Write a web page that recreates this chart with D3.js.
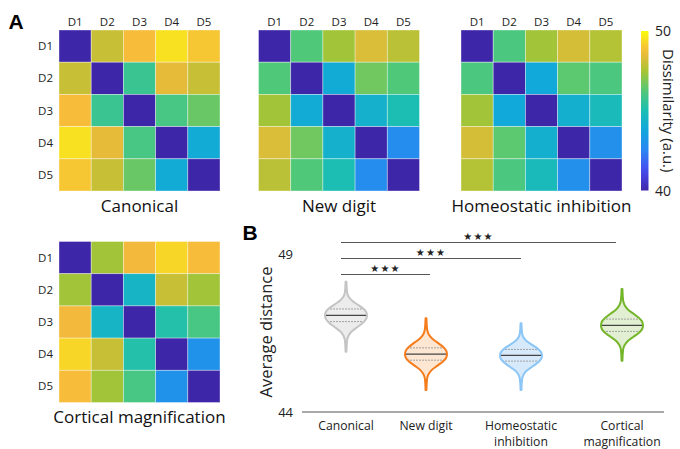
<!DOCTYPE html>
<html>
<head>
<meta charset="utf-8">
<script src="https://cdn.jsdelivr.net/npm/d3@7"></script>
<style>
  html, body { margin: 0; padding: 0; background: #fff; }
  svg { display: block; font-family: "Open Sans", "Noto Sans", sans-serif; }
</style>
</head>
<body>
<svg id="chart" width="680" height="449"></svg>
<script>
// ---------- DATA ----------
const digits = ["D1", "D2", "D3", "D4", "D5"];

const canonical = [
  [40.0, 48.0, 48.8, 49.5, 49.0],
  [48.0, 40.0, 45.7, 48.5, 48.0],
  [48.8, 45.7, 40.0, 46.0, 46.6],
  [49.5, 48.5, 46.0, 40.0, 44.0],
  [49.0, 48.0, 46.6, 44.0, 40.0]
];
const newDigit = [
  [40.0, 46.2, 47.4, 48.3, 47.8],
  [46.2, 40.0, 44.0, 46.7, 46.2],
  [47.4, 44.0, 40.0, 44.3, 45.0],
  [48.3, 46.7, 44.3, 40.0, 42.8],
  [47.8, 46.2, 45.0, 42.8, 40.0]
];
const homeostatic = [
  [40.0, 46.1, 47.4, 48.2, 47.7],
  [46.1, 40.0, 43.9, 46.4, 46.1],
  [47.4, 43.9, 40.0, 44.2, 44.8],
  [48.2, 46.4, 44.2, 40.0, 42.9],
  [47.7, 46.1, 44.8, 42.9, 40.0]
];
const cortical = [
  [40.0, 47.4, 48.7, 49.3, 48.8],
  [47.4, 40.0, 44.5, 48.0, 47.4],
  [48.7, 44.5, 40.0, 45.2, 46.0],
  [49.3, 48.0, 45.2, 40.0, 43.0],
  [48.8, 47.4, 46.0, 43.0, 40.0]
];
const heatmapTitles = ["Canonical", "New digit", "Homeostatic inhibition", "Cortical magnification"];
const colorDomain = [40, 50];
const colorTicks = [40, 50];

const violinCats = ["Canonical", "New digit", "Homeostatic inhibition", "Cortical magnification"];
const violinLabelLines = [["Canonical"], ["New digit"], ["Homeostatic", "inhibition"], ["Cortical", "magnification"]];
const violinMax    = [48.12, 46.97, 46.81, 47.89];
const violinQ3     = [47.26, 46.03, 45.98, 46.94];
const violinMedian = [47.06, 45.83, 45.79, 46.74];
const violinQ1     = [46.86, 45.64, 45.61, 46.55];
const violinMin    = [45.91, 44.70, 44.70, 45.62];
// shape profile (relative position from top tip to bottom tip, relative half-width)
const profileT = [0.00, 0.15, 0.22, 0.28, 0.34, 0.40, 0.45, 0.50, 0.55, 0.60, 0.66, 0.72, 0.78, 0.85, 1.00];
const profileW = [0.02, 0.05, 0.12, 0.28, 0.55, 0.82, 0.96, 1.00, 0.96, 0.82, 0.55, 0.28, 0.12, 0.05, 0.02];
const yTicks = [44, 49];
const sigPairs = [[0, 1], [0, 2], [0, 3]];
const sigLabel = "★★★";

// ---------- STYLE ----------
const violinStroke = ["#c4c4c4", "#f47c1c", "#8cc6f6", "#74b52a"];
const violinFill   = ["#ececec", "#fde7d2", "#d7eafb", "#e2efd2"];

const parulaStops = ["#3e26a8", "#464cf0", "#2c85f2", "#10a6de", "#1cbeb4", "#52c878", "#a8c434", "#f6b93c", "#f9fb0e"];
const color = d3.scaleLinear()
  .domain(d3.range(parulaStops.length).map(i => colorDomain[0] + i * (colorDomain[1] - colorDomain[0]) / (parulaStops.length - 1)))
  .range(parulaStops)
  .interpolate(d3.interpolateRgb)
  .clamp(true);

const svg = d3.select("#chart");

// ---------- PANEL A: heatmaps ----------
const size = 161;
const panels = [
  { m: canonical,   title: heatmapTitles[0], x: 59,    y: 30,    cols: true,  rows: true,  titleY: 212 },
  { m: newDigit,    title: heatmapTitles[1], x: 258.5, y: 30,    cols: true,  rows: false, titleY: 212 },
  { m: homeostatic, title: heatmapTitles[2], x: 461,   y: 30,    cols: true,  rows: false, titleY: 212 },
  { m: cortical,    title: heatmapTitles[3], x: 59,    y: 241.5, cols: false, rows: true,  titleY: 422.5 }
];

svg.append("text").attr("x", 8.5).attr("y", 28.5)
  .attr("font-family", "Liberation Sans, Arial, sans-serif").attr("font-weight", "bold")
  .attr("font-size", 21).attr("fill", "#000").text("A");

panels.forEach(p => {
  const band = d3.scaleBand().domain(digits).range([0, size]);
  const g = svg.append("g").attr("transform", `translate(${p.x},${p.y})`);
  const cells = [];
  p.m.forEach((row, i) => row.forEach((v, j) => cells.push({ r: digits[i], c: digits[j], v })));
  g.selectAll("rect").data(cells).join("rect")
    .attr("x", d => band(d.c)).attr("y", d => band(d.r))
    .attr("width", band.bandwidth()).attr("height", band.bandwidth())
    .attr("fill", d => color(d.v))
    .attr("stroke", "rgba(255,255,255,0.45)").attr("stroke-width", 0.8);
  if (p.cols) {
    g.selectAll("text.col").data(digits).join("text").attr("class", "col")
      .attr("x", d => band(d) + band.bandwidth() / 2).attr("y", -4.5)
      .attr("text-anchor", "middle").attr("font-size", 11.5).attr("fill", "#222").text(d => d);
  }
  if (p.rows) {
    g.selectAll("text.row").data(digits).join("text").attr("class", "row")
      .attr("x", -6).attr("y", d => band(d) + band.bandwidth() / 2)
      .attr("dy", "0.35em").attr("text-anchor", "end").attr("font-size", 11.5).attr("fill", "#222").text(d => d);
  }
  svg.append("text").attr("x", p.x + size / 2).attr("y", p.titleY)
    .attr("text-anchor", "middle").attr("font-size", 17).attr("fill", "#111").text(p.title);
});

// colorbar
const cbX = 641, cbW = 7.5, cbTop = 31, cbBot = 190.5;
const cbScale = d3.scaleLinear().domain(colorDomain).range([cbBot, cbTop]);
const defs = svg.append("defs");
const grad = defs.append("linearGradient").attr("id", "cbgrad")
  .attr("x1", 0).attr("y1", 1).attr("x2", 0).attr("y2", 0);
d3.range(0, 1.0001, 0.05).forEach(t => {
  grad.append("stop").attr("offset", t)
    .attr("stop-color", color(colorDomain[0] + t * (colorDomain[1] - colorDomain[0])));
});
svg.append("rect").attr("x", cbX).attr("y", cbTop).attr("width", cbW).attr("height", cbBot - cbTop)
  .attr("fill", "url(#cbgrad)");
svg.selectAll("text.cbt").data(colorTicks).join("text").attr("class", "cbt")
  .attr("x", 655).attr("y", d => cbScale(d)).attr("dy", "0.36em")
  .attr("font-size", 14).attr("fill", "#222").text(d => d);
svg.append("text")
  .attr("transform", `translate(663,${(cbTop + cbBot) / 2}) rotate(90)`)
  .attr("text-anchor", "middle").attr("font-size", 15).attr("fill", "#222")
  .text("Dissimilarity (a.u.)");

// ---------- PANEL B: violins ----------
svg.append("text").attr("x", 242.5).attr("y", 239.5)
  .attr("font-family", "Liberation Sans, Arial, sans-serif").attr("font-weight", "bold")
  .attr("font-size", 21).attr("fill", "#000").text("B");

const y = d3.scaleLinear().domain([44, 49]).range([412, 254]);
const x = d3.scaleOrdinal().domain(violinCats).range([346, 426, 521, 622]);
const w = d3.scaleLinear().domain([0, 1]).range([0, 21]);

// baseline axis
svg.append("line").attr("x1", 302).attr("x2", 664).attr("y1", y(44)).attr("y2", y(44))
  .attr("stroke", "#555").attr("stroke-width", 1.2);
svg.selectAll("text.yt").data(yTicks).join("text").attr("class", "yt")
  .attr("x", 293).attr("y", d => y(d)).attr("dy", "0.36em").attr("text-anchor", "end")
  .attr("font-size", 13).attr("fill", "#222").text(d => d);
svg.append("text")
  .attr("transform", `translate(272,${(y(44) + y(49)) / 2 - 1}) rotate(-90)`)
  .attr("text-anchor", "middle").attr("font-size", 16.5).attr("fill", "#222")
  .text("Average distance");

// category labels (each line its own text element)
violinCats.forEach((c, i) => {
  violinLabelLines[i].forEach((line, k) => {
    svg.append("text").attr("x", x(c)).attr("y", 429.5 + k * 16.3)
      .attr("text-anchor", "middle").attr("font-size", 12.2).attr("fill", "#222").text(line);
  });
});

violinCats.forEach((c, i) => {
  const cx = x(c);
  const pts = profileT.map((t, k) => {
    const v = t <= 0.5
      ? violinMax[i] + (violinMedian[i] - violinMax[i]) * (t / 0.5)
      : violinMedian[i] + (violinMin[i] - violinMedian[i]) * ((t - 0.5) / 0.5);
    return { yy: y(v), hw: w(profileW[k]) };
  });
  const path = d3.area()
    .y(d => d.yy).x0(d => cx - d.hw).x1(d => cx + d.hw)
    .curve(d3.curveMonotoneY)(pts);
  const clipId = "clip" + i;
  defs.append("clipPath").attr("id", clipId).append("path").attr("d", path);
  const g = svg.append("g");
  g.append("path").attr("d", path).attr("fill", violinFill[i]);
  const lines = g.append("g").attr("clip-path", `url(#${clipId})`);
  [violinQ1[i], violinQ3[i]].forEach(q => {
    lines.append("line").attr("x1", cx - 25).attr("x2", cx + 25).attr("y1", y(q)).attr("y2", y(q))
      .attr("stroke", "#9a9a9a").attr("stroke-width", 0.9).attr("stroke-dasharray", "2,1");
  });
  lines.append("line").attr("x1", cx - 25).attr("x2", cx + 25).attr("y1", y(violinMedian[i])).attr("y2", y(violinMedian[i]))
    .attr("stroke", "#444").attr("stroke-width", 1.2);
  g.append("path").attr("d", path).attr("fill", "none")
    .attr("stroke", violinStroke[i]).attr("stroke-width", 2).attr("stroke-linejoin", "round");
});

// significance bars
const endAdjust = [4, 0, -6];
sigPairs.forEach((pr, k) => {
  const x1 = x(violinCats[pr[0]]) - 5;
  const x2 = x(violinCats[pr[1]]) + endAdjust[k];
  const ly = 274.5 - k * 16;
  svg.append("line").attr("x1", x1).attr("x2", x2).attr("y1", ly).attr("y2", ly)
    .attr("stroke", "#555").attr("stroke-width", 1.2);
  svg.append("text").attr("x", (x1 + x2) / 2).attr("y", ly - 3)
    .attr("text-anchor", "middle").attr("font-family", "DejaVu Sans").attr("font-size", 10)
    .attr("letter-spacing", 1.2).attr("fill", "#222").text(sigLabel);
});
</script>
</body>
</html>
